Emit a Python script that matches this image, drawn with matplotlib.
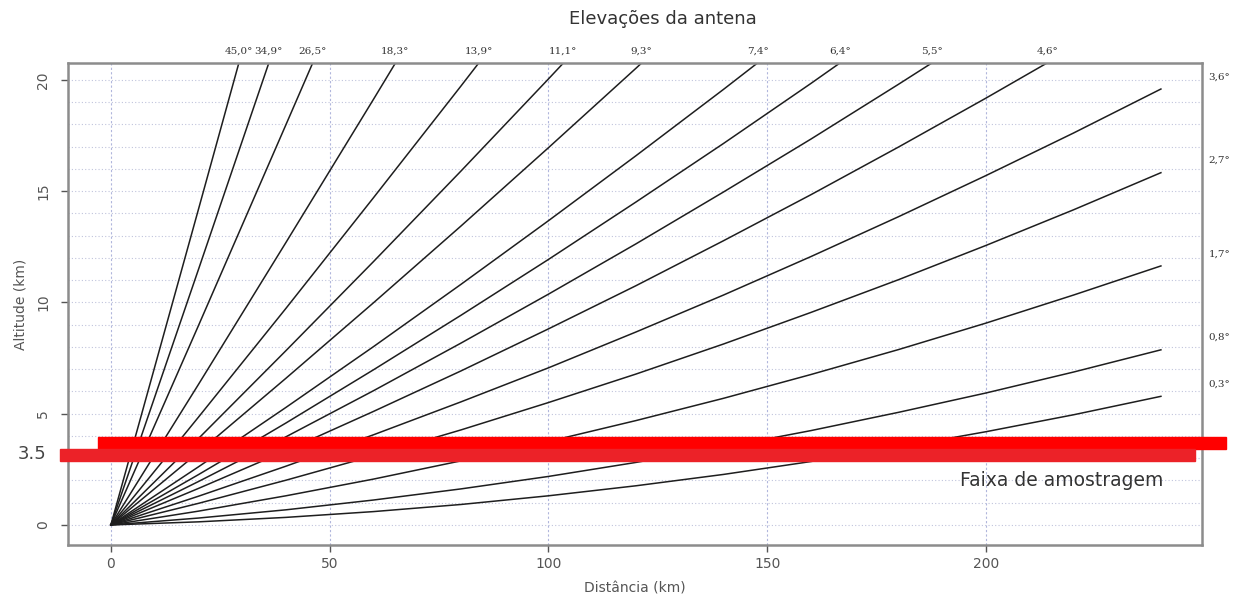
import numpy as np
import matplotlib
matplotlib.use("Agg")
import matplotlib.pyplot as plt
from matplotlib.patches import Rectangle

dist = [0, 20, 40, 60, 80, 100, 120, 140, 160, 180, 200, 220, 240]

# elevation angle labels and beam altitude (km) at each distance
angles = ["45,0°", "34,9°", "26,5°", "18,3°", "13,9°", "11,1°", "9,3°", "7,4°",
          "6,4°", "5,5°", "4,6°", "3,6°", "2,7°", "1,7°", "0,8°", "0,3°"]
alt = [
    [0, 14.17, 28.41],
    [0, 11.47, 23.01],
    [0, 8.95, 17.98, 27.05],
    [0, 6.31, 12.69, 19.12, 25.62],
    [0, 4.84, 9.73, 14.70, 19.72, 24.81],
    [0, 3.88, 7.83, 11.83, 15.90, 20.04, 24.23],
    [0, 3.26, 6.59, 9.98, 13.43, 16.95, 20.52, 24.16],
    [0, 2.61, 5.28, 8.01, 10.81, 13.67, 16.59, 19.57, 22.62],
    [0, 2.26, 4.58, 6.97, 9.42, 11.93, 14.51, 17.14, 19.84, 22.61],
    [0, 1.95, 3.96, 6.03, 8.17, 10.37, 12.63, 14.96, 17.34, 19.80, 22.31],
    [0, 1.64, 3.33, 5.10, 6.92, 8.81, 10.75, 12.77, 14.84, 16.98, 19.18, 21.44, 23.77],
    [0, 1.29, 2.64, 4.05, 5.53, 7.06, 8.67, 10.33, 12.06, 13.85, 15.70, 17.61, 19.59],
    [0, 0.97, 2.01, 3.11, 4.27, 5.50, 6.78, 8.13, 9.55, 11.02, 12.56, 14.16, 15.83],
    [0, 0.62, 1.31, 2.06, 2.88, 3.75, 4.69, 5.69, 6.76, 7.88, 9.07, 10.33, 11.64],
    [0, 0.31, 0.68, 1.12, 1.62, 2.18, 2.81, 3.49, 4.24, 5.06, 5.93, 6.87, 7.87],
    [0, 0.14, 0.34, 0.60, 0.92, 1.31, 1.76, 2.27, 2.85, 3.49, 4.19, 4.95, 5.78],
]

band_alt = 3.5
title = "Elevações da antena"
band_label = "Faixa de amostragem"

xlim = (-9.8, 249.4)
ylim = (-0.9, 20.76)

fig = plt.figure(figsize=(12.34, 6.01), dpi=100)
ax = fig.add_axes([0.0551, 0.0932, 0.9190, 0.8020])
ax.set_xlim(*xlim)
ax.set_ylim(*ylim)

# grid like the R plot
for y in range(0, 21):
    ax.axhline(y, color="#c0c4dc", lw=0.8, ls=(0, (1, 2)), zorder=0)
for x in [0, 50, 100, 150, 200]:
    ax.axvline(x, color="#b0b6dc", lw=0.8, ls=(0, (2, 2)), zorder=0)

ytop = ylim[1]
for lab, a in zip(angles, alt):
    xs = dist[:len(a)]
    ax.plot(xs, a, color="#1e1e1e", lw=1.1, zorder=2)
    if a[-1] > ytop:
        xe = np.interp(ytop, a, xs)
        ax.text(xe, ytop + 0.35, lab, ha="center", va="bottom",
                family="DejaVu Serif", fontsize=7.5, color="#333333")
    else:
        ax.text(xlim[1] + 1.5, a[-1] + 0.55, lab, ha="left", va="center",
                family="DejaVu Serif", fontsize=7.5, color="#333333")

for s in ax.spines.values():
    s.set_color("#8c8c8c")
    s.set_linewidth(1.8)

ax.set_xticks([0, 50, 100, 150, 200])
ax.set_yticks([0, 5, 10, 15, 20])
ax.tick_params(colors="#555555", labelsize=10, length=5, width=1)
ax.tick_params(axis="y", pad=8)
for t in ax.get_yticklabels():
    t.set_rotation(90)
    t.set_va("center")
ax.set_xlabel("Distância (km)", fontsize=10, color="#555555", labelpad=8)
ax.set_ylabel("Altitude (km)", fontsize=10, color="#555555", labelpad=6)

fig.text(0.537, 0.968, title, ha="center", va="center", fontsize=13, color="#333333")

# red sampling band marks drawn over the figure
fig.patches.append(Rectangle((98 / 1234, 1 - 449 / 601), (1226 - 98) / 1234, 12 / 601,
                             transform=fig.transFigure, color="#ff0000", zorder=5))
fig.patches.append(Rectangle((60 / 1234, 1 - 461 / 601), (1195 - 60) / 1234, 12 / 601,
                             transform=fig.transFigure, color="#ec2228", zorder=5))
fig.text(32 / 1234, 1 - 454 / 601, str(band_alt), ha="center", va="center",
         fontsize=13, color="#444444")
fig.text(1062 / 1234, 1 - 481 / 601, band_label, ha="center", va="center",
         fontsize=13.5, color="#333333")

fig.savefig("out.png", dpi=100)
